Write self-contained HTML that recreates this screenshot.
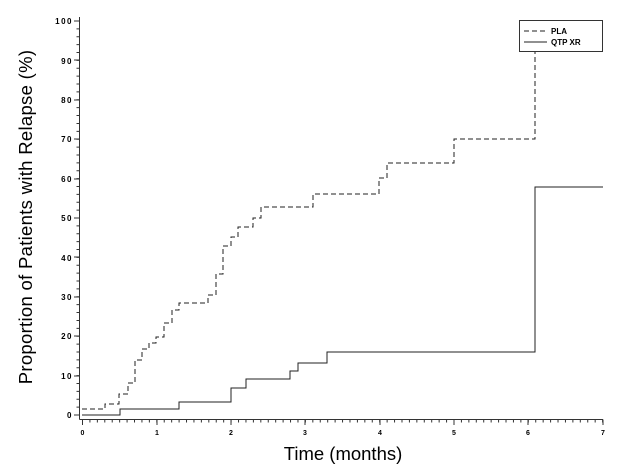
<!DOCTYPE html>
<html><head><meta charset="utf-8"><style>body{margin:0;background:#fff}svg{display:block}</style></head><body>
<svg width="635" height="464" xmlns="http://www.w3.org/2000/svg" font-family="Liberation Sans, sans-serif">
<rect width="635" height="464" fill="#fff"/>
<line x1="79.5" y1="17" x2="79.5" y2="419.5" stroke="#333"/>
<line x1="79.5" y1="419.5" x2="603" y2="419.5" stroke="#333"/>
<!-- minor ticks -->
<line x1="82" y1="421" x2="604" y2="421" stroke="#333" stroke-width="3" stroke-dasharray="1 6.43"/>
<line x1="78" y1="415.5" x2="78" y2="20" stroke="#333" stroke-width="3" stroke-dasharray="1 6.88"/>
<!-- major ticks -->
<g stroke="#333">
<line x1="82.5" y1="419.5" x2="82.5" y2="425"/><line x1="157" y1="419.5" x2="157" y2="425"/><line x1="231" y1="419.5" x2="231" y2="425"/><line x1="305" y1="419.5" x2="305" y2="425"/><line x1="380" y1="419.5" x2="380" y2="425"/><line x1="454" y1="419.5" x2="454" y2="425"/><line x1="528" y1="419.5" x2="528" y2="425"/><line x1="603" y1="419.5" x2="603" y2="425"/>
<line x1="74" y1="415" x2="79.5" y2="415"/><line x1="74" y1="376" x2="79.5" y2="376"/><line x1="74" y1="336" x2="79.5" y2="336"/><line x1="74" y1="297" x2="79.5" y2="297"/><line x1="74" y1="257" x2="79.5" y2="257"/><line x1="74" y1="218" x2="79.5" y2="218"/><line x1="74" y1="179" x2="79.5" y2="179"/><line x1="74" y1="139" x2="79.5" y2="139"/><line x1="74" y1="100" x2="79.5" y2="100"/><line x1="74" y1="60" x2="79.5" y2="60"/><line x1="74" y1="21" x2="79.5" y2="21"/>
</g>
<g font-size="8" font-weight="bold" letter-spacing="1.5" text-anchor="end">
<text x="73" y="418">0</text><text x="73" y="379">10</text><text x="73" y="339">20</text><text x="73" y="300">30</text><text x="73" y="261">40</text><text x="73" y="221">50</text><text x="73" y="182">60</text><text x="73" y="142">70</text><text x="73" y="103">80</text><text x="73" y="64">90</text><text x="73" y="24">100</text>
</g>
<g font-size="7" font-weight="bold" text-anchor="middle">
<text x="82.5" y="435">0</text><text x="157" y="435">1</text><text x="231" y="435">2</text><text x="305" y="435">3</text><text x="380" y="435">4</text><text x="454" y="435">5</text><text x="528" y="435">6</text><text x="603" y="435">7</text>
</g>
<text x="343" y="460" font-size="18.5" text-anchor="middle">Time (months)</text>
<text transform="translate(32,217) rotate(-90)" font-size="18.5" text-anchor="middle" letter-spacing="0.3">Proportion of Patients with Relapse (%)</text>
<path fill="none" stroke="#222" stroke-width="1" stroke-dasharray="5,3" d="M82,409H105V404H119V394H128V383H135V360H142V349H149V343H156V337H164V323H172V310H179V303H208V295H216V274H223V246H231V237H238V227H253V218H261V207H313V194H379V178H387V163H454V139H535V21"/>
<path fill="none" stroke="#222" stroke-width="1" d="M82,415H120V409H179V402H231V388H246V379H290V371H298V363H327V352H535V187H603"/>
<rect x="519.5" y="20.5" width="83" height="31" fill="#fff" stroke="#333"/>
<line x1="524" y1="31" x2="547" y2="31" stroke="#222" stroke-dasharray="5,3"/>
<line x1="524" y1="42" x2="547" y2="42" stroke="#222"/>
<g font-size="8" font-weight="bold"><text x="551" y="34">PLA</text><text x="551" y="45">QTP XR</text></g>
</svg>
</body></html>
